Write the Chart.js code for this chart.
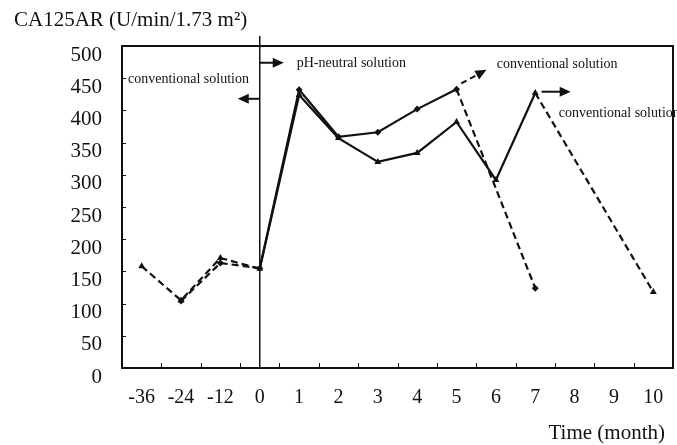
<!DOCTYPE html>
<html>
<head>
<meta charset="utf-8">
<script src="https://cdn.jsdelivr.net/npm/chart.js@4.4.1/dist/chart.umd.min.js"></script>
<style>
  html, body { margin: 0; padding: 0; background: #fff; }
  #wrap { width: 677px; height: 445px; position: relative; }
</style>
</head>
<body>
<div id="wrap"><canvas id="c"></canvas></div>
<script>
const categories = ['-36', '-24', '-12', '0', '1', '2', '3', '4', '5', '6', '7', '8', '9', '10'];
const diamondSeries = [null, 104, 163, 155, 432, 359, 366, 402, 433, null, 124, null, null, null];
const triangleSeries = [158, 105, 171, 154, 424, 357, 320, 334, 382, 292, 427, null, null, 118];
const yTickValues = [0, 50, 100, 150, 200, 250, 300, 350, 400, 450, 500];
const titleText = 'CA125AR (U/min/1.73 m\u00B2)';
const xTitleText = 'Time (month)';
const annotationTexts = {
  left: 'conventional solution',
  ph: 'pH-neutral solution',
  conv1: 'conventional solution',
  conv2: 'conventional solution'
};

const SERIF = '"Liberation Serif", "Times New Roman", serif';
const DASH = [7, 4];

function segDash(dashFrom) {
  return ctx => (ctx.p0DataIndex < 3 || ctx.p0DataIndex >= dashFrom) ? DASH : undefined;
}

function arrowHead(ctx, x1, y1, x2, y2, len, half) {
  const a = Math.atan2(y2 - y1, x2 - x1);
  ctx.beginPath();
  ctx.moveTo(x2, y2);
  ctx.lineTo(x2 - len * Math.cos(a) + half * Math.sin(a), y2 - len * Math.sin(a) - half * Math.cos(a));
  ctx.lineTo(x2 - len * Math.cos(a) - half * Math.sin(a), y2 - len * Math.sin(a) + half * Math.cos(a));
  ctx.closePath();
  ctx.fill();
}

function arrow(ctx, x1, y1, x2, y2, dashed) {
  const a = Math.atan2(y2 - y1, x2 - x1);
  const len = 11;
  ctx.save();
  ctx.lineWidth = 2;
  if (dashed) ctx.setLineDash([6, 4]);
  ctx.beginPath();
  ctx.moveTo(x1, y1);
  ctx.lineTo(x2 - len * 0.8 * Math.cos(a), y2 - len * 0.8 * Math.sin(a));
  ctx.stroke();
  ctx.restore();
  arrowHead(ctx, x1, y1, x2, y2, len, 5);
}

const decorPlugin = {
  id: 'decor',
  beforeDraw(chart) {
    const ctx = chart.ctx;
    ctx.save();
    ctx.fillStyle = '#fff';
    ctx.fillRect(0, 0, chart.width, chart.height);
    ctx.restore();
  },
  afterDraw(chart) {
    const ctx = chart.ctx;
    const xs = chart.scales.x, ys = chart.scales.y;
    const ca = chart.chartArea;
    ctx.save();
    ctx.strokeStyle = '#111';
    ctx.fillStyle = '#111';

    // frame
    ctx.lineWidth = 2;
    ctx.strokeRect(ca.left, ca.top, ca.right - ca.left, ca.bottom - ca.top);

    // inward ticks
    ctx.lineWidth = 1;
    ctx.beginPath();
    yTickValues.forEach(v => {
      if (v === 0 || v === 500) return;
      const y = Math.round(ys.getPixelForValue(v)) + 0.5;
      ctx.moveTo(ca.left, y); ctx.lineTo(ca.left + 4, y);
    });
    for (let i = 0; i < categories.length - 1; i++) {
      const x = Math.round((xs.getPixelForValue(i) + xs.getPixelForValue(i + 1)) / 2) + 0.5;
      ctx.moveTo(x, ca.bottom); ctx.lineTo(x, ca.bottom - 5);
    }
    ctx.stroke();

    // vertical line at month 0
    const x0 = xs.getPixelForValue(3);
    ctx.lineWidth = 1.5;
    ctx.beginPath();
    ctx.moveTo(x0, ca.top - 10);
    ctx.lineTo(x0, ca.bottom);
    ctx.stroke();

    // arrows
    arrow(ctx, x0, ys.getPixelForValue(474), x0 + 24, ys.getPixelForValue(474), false);
    arrow(ctx, x0, ys.getPixelForValue(418), x0 - 22, ys.getPixelForValue(418), false);
    arrow(ctx, xs.getPixelForValue(8.12), ys.getPixelForValue(442), xs.getPixelForValue(8.76), ys.getPixelForValue(463), true);
    arrow(ctx, xs.getPixelForValue(10.16), ys.getPixelForValue(429), xs.getPixelForValue(10.9), ys.getPixelForValue(429), false);

    // texts
    ctx.font = '14px ' + SERIF;
    ctx.textBaseline = 'middle';
    ctx.textAlign = 'left';
    ctx.fillText(annotationTexts.left, ca.left + 6, ys.getPixelForValue(449));
    ctx.fillText(annotationTexts.ph, x0 + 37, ys.getPixelForValue(473));
    ctx.fillText(annotationTexts.conv1, xs.getPixelForValue(9.02), ys.getPixelForValue(471));
    ctx.fillText(annotationTexts.conv2, xs.getPixelForValue(10.6), ys.getPixelForValue(396));

    // chart title
    ctx.font = '21px ' + SERIF;
    ctx.fillText(titleText, 14, 20);

    // x axis title
    ctx.font = '21px ' + SERIF;
    ctx.textAlign = 'right';
    ctx.fillText(xTitleText, ca.right - 8, 433);
    ctx.restore();
  }
};

new Chart(document.getElementById('c'), {
  type: 'line',
  data: {
    labels: categories,
    datasets: [
      {
        label: 'diamond',
        data: diamondSeries,
        borderColor: '#111',
        backgroundColor: '#111',
        borderWidth: 2.2,
        pointStyle: 'rectRot',
        pointRadius: 3.5,
        pointBorderWidth: 0,
        spanGaps: true,
        tension: 0,
        segment: { borderDash: segDash(8) }
      },
      {
        label: 'triangle',
        data: triangleSeries,
        borderColor: '#111',
        backgroundColor: '#111',
        borderWidth: 2.2,
        pointStyle: 'triangle',
        pointRadius: 4,
        pointBorderWidth: 0,
        spanGaps: true,
        tension: 0,
        segment: { borderDash: segDash(10) }
      }
    ]
  },
  options: {
    responsive: true,
    maintainAspectRatio: false,
    animation: false,
    devicePixelRatio: 1,
    layout: { padding: { top: 46, right: 0, left: 0, bottom: 0 } },
    plugins: {
      legend: { display: false },
      tooltip: { enabled: false },
      title: { display: false }
    },
    scales: {
      x: {
        type: 'category',
        offset: true,
        grid: { display: false, drawTicks: false },
        border: { display: false },
        ticks: {
          color: '#111',
          font: { family: SERIF, size: 20 },
          padding: 18,
          maxRotation: 0,
          autoSkip: false
        },
        title: { display: false },
        afterFit(s) { s.height = 77; s.paddingLeft = 0; s.paddingRight = 0; }
      },
      y: {
        min: 0,
        max: 500,
        grid: { display: false, drawTicks: false },
        border: { display: false },
        afterBuildTicks(s) { s.ticks = yTickValues.map(v => ({ value: v })); },
        ticks: {
          color: '#111',
          font: { family: SERIF, size: 21 },
          padding: 20,
          labelOffset: 9
        },
        afterFit(s) { s.width = 122; s.paddingTop = 0; s.paddingBottom = 0; }
      }
    }
  },
  plugins: [decorPlugin]
});
</script>
</body>
</html>
